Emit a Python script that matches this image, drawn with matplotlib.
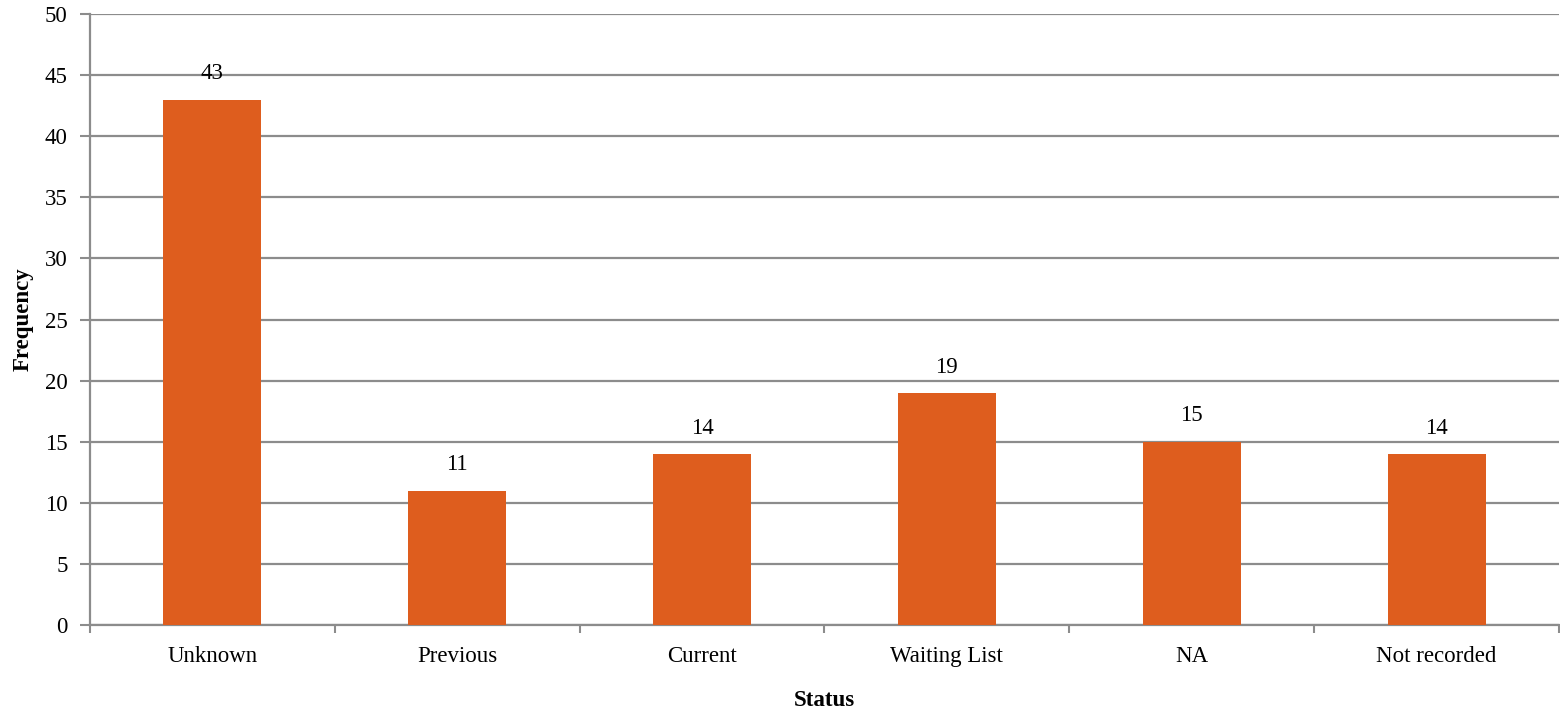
import numpy as np
import matplotlib.pyplot as plt

categories = ['Unknown', 'Previous', 'Current', 'Waiting List', 'NA', 'Not recorded']
counts = [43, 11, 14, 19, 15, 14]

plt.rcParams['font.family'] = ['Liberation Serif', 'DejaVu Serif']

fig = plt.figure(figsize=(15.6, 7.11), dpi=100)
ax = fig.add_axes([90 / 1560, 1 - 625 / 711, 1469 / 1560, 611 / 711])

grid_c = '#8c8c8c'
fs = 16.5
x = np.arange(len(categories))
ax.bar(x, counts, width=0.4, color='#de5d1e', zorder=3)

for xi, v in zip(x, counts):
    ax.annotate(str(v), xy=(xi, v), xytext=(0, 11), textcoords='offset points',
                ha='center', va='bottom', fontsize=fs, zorder=4)

ax.set_xlim(-0.5, len(categories) - 0.5)
ax.set_ylim(0, 50)
ax.set_yticks(np.arange(0, 51, 5))
ax.yaxis.grid(True, color=grid_c, linewidth=1.6, zorder=0)

ax.set_xticks(x)
ax.set_xticklabels(categories, fontsize=fs)
ax.set_xticks(np.arange(-0.5, len(categories)), minor=True)
ax.tick_params(axis='x', which='major', length=0, pad=15)
ax.tick_params(axis='x', which='minor', length=6, width=1.5, color=grid_c)
ax.tick_params(axis='y', length=7, width=1.5, color=grid_c, labelsize=fs, pad=9)

for s in ['top', 'right']:
    ax.spines[s].set_visible(False)
for s in ['left', 'bottom']:
    ax.spines[s].set_color(grid_c)
    ax.spines[s].set_linewidth(1.6)

ax.set_xlabel('Status', fontsize=fs, fontweight='bold', labelpad=17)
ax.set_ylabel('Frequency', fontsize=fs, fontweight='bold', labelpad=8)

plt.savefig('out.png', dpi=100)
